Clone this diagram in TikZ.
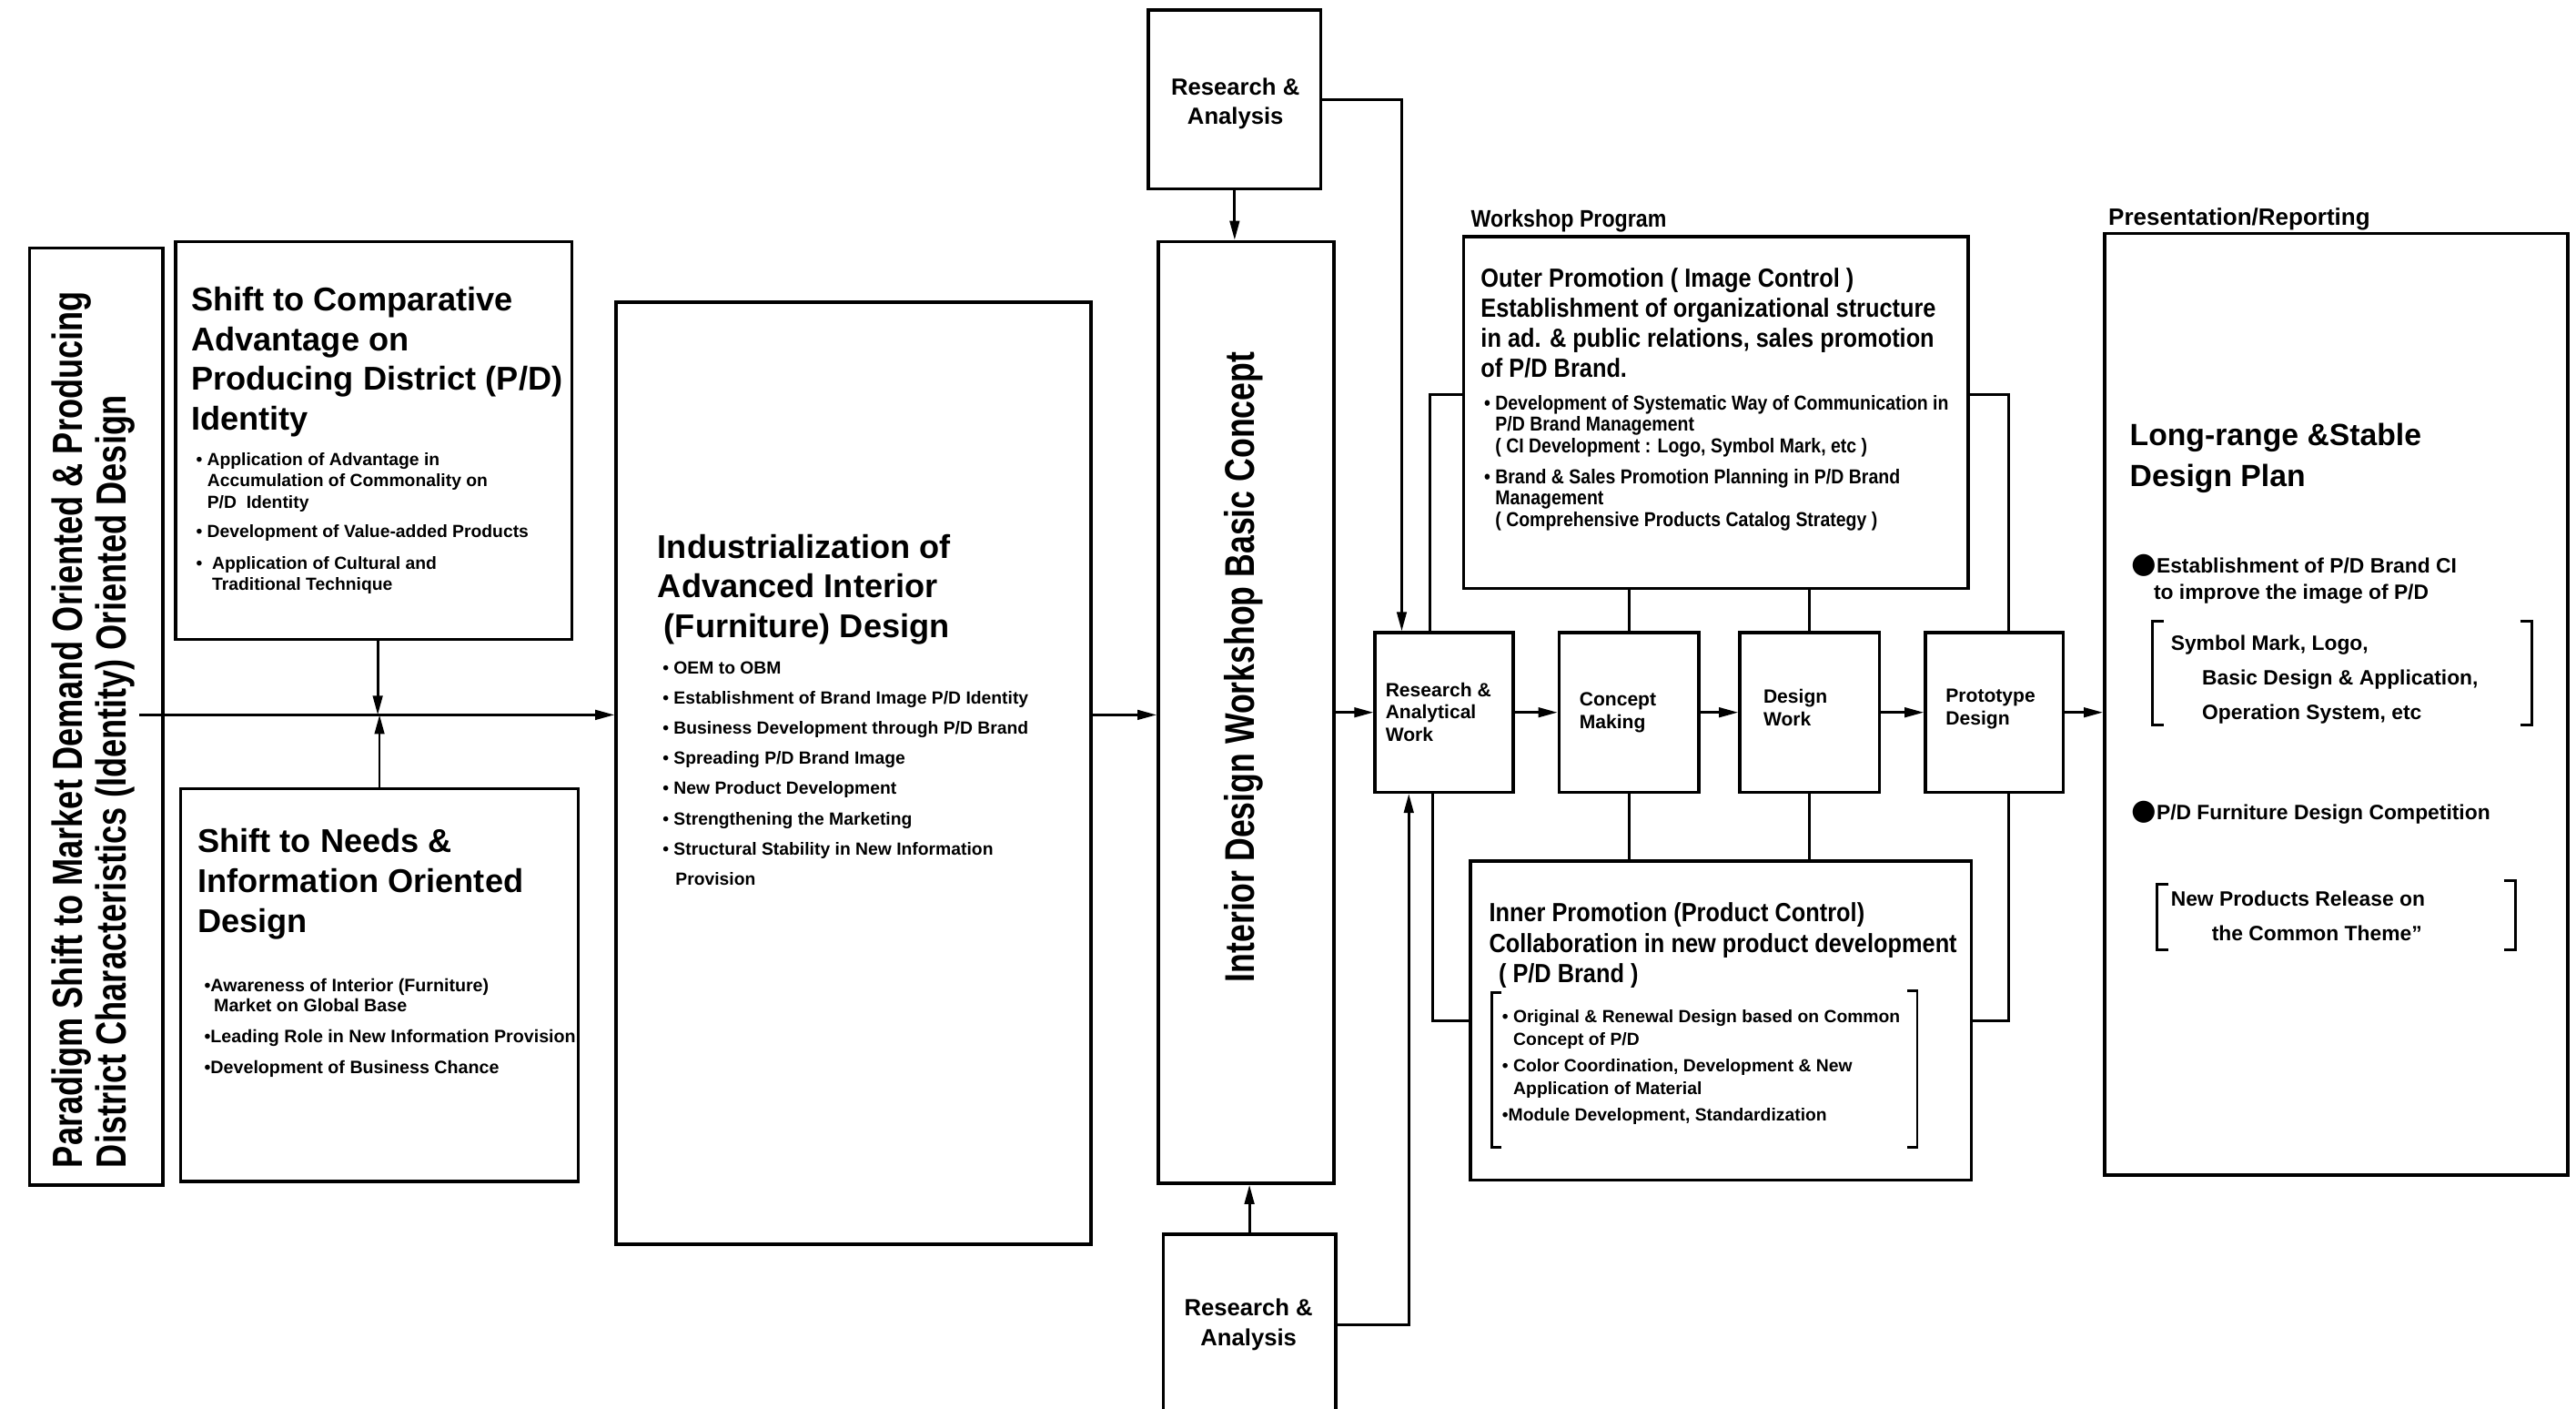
\documentclass[tikz,border=0pt]{standalone}
\usepackage{fontspec}
\setmainfont{Liberation Sans}
\newfontfamily\narrow[FakeStretch=0.78]{Liberation Sans}
\newfontfamily\semi[FakeStretch=0.88]{Liberation Sans}
\newfontfamily\symfont{DejaVu Sans}
\usetikzlibrary{fit,calc,arrows.meta}
\newcommand{\HeadFont}{\fontsize{10.3}{12.5}\selectfont\bfseries}
\newcommand{\TinyFont}{\fontsize{5.5}{6.7}\selectfont\bfseries}
\newcommand{\StepFont}{\fontsize{6}{7}\selectfont\bfseries}
\newcommand{\Blob}{{\symfont\fontsize{9}{9}\selectfont ●}}

\begin{document}
\begin{tikzpicture}[x=0.1806mm, y=-0.1806mm,
    box/.style={draw, line width=1pt, inner sep=0pt},
    txt/.style={inner sep=0pt, anchor=north west, align=left},
    lnk/.style={line width=0.8pt},
    arr/.style={line width=0.8pt, -{Triangle[length=6pt,width=3pt]}}]

    \useasboundingbox (0,0) rectangle (1568,857);
    \clip (0,0) rectangle (1568,857);

    % boxes
    \node[box, fit={(18,151) (99,721)}] (para) {};
    \node[box, fit={(107,147) (348,389)}] (shiftA) {};
    \node[box, fit={(110,480) (352,719)}] (shiftB) {};
    \node[box, fit={(375,184) (664,757)}] (indus) {};
    \node[box, fit={(699,6) (804,115)}] (raTop) {};
    \node[box, fit={(705,147) (812,720)}] (idwb) {};
    \node[box, fit={(708,751) (813,861)}] (raBot) {};
    \node[box, fit={(837,385) (921,482)}] (raw) {};
    \node[box, fit={(949,385) (1034,482)}] (con) {};
    \node[box, fit={(1059,385) (1144,482)}] (dsg) {};
    \node[box, fit={(1172,385) (1256,482)}] (pro) {};
    \node[box, fit={(891,144) (1198,358)}] (outer) {};
    \node[box, fit={(895,524) (1200,718)}] (inner) {};
    \node[box, fit={(1281,142) (1563,715)}] (pres) {};

    % texts
    \node[txt, rotate=90, anchor=west, font=\narrow\fontsize{13.2}{13.6}\selectfont\bfseries] (paraT) at (57,711)
        {Paradigm Shift to Market Demand Oriented \& Producing\\District Characteristics (Identity) Oriented Design};

    \node[txt, font=\HeadFont] (shiftAH) at (116,174)
        {Shift to Comparative\\Advantage on\\Producing District (P/D)\\Identity};
    \node[txt, font=\TinyFont] (shiftAB) at (119,275)
        {\textbullet\ Application of Advantage in\\\hspace*{3.5pt}Accumulation of Commonality on\\\hspace*{3.5pt}P/D\ \ Identity\\[2.6pt]%
         \textbullet\ Development of Value-added Products\\[3pt]%
         \textbullet\ \ Application of Cultural and\\\hspace*{5pt}Traditional Technique};

    \node[txt, font=\HeadFont] (shiftBH) at (120,504)
        {Shift to Needs \&\\Information Oriented\\Design};
    \node[txt, font=\fontsize{5.6}{6.2}\selectfont\bfseries] (shiftBB) at (124,595)
        {\textbullet Awareness of Interior (Furniture)\\\hspace*{3pt}Market on Global Base\\[3.6pt]%
         \textbullet Leading Role in New Information Provision\\[3.6pt]%
         \textbullet Development of Business Chance};

    \node[txt, font=\fontsize{10.3}{12.3}\selectfont\bfseries] (indusH) at (400,325)
        {Industrialization of\\Advanced Interior\\\hspace*{2pt}(Furniture) Design};
    \node[txt, font=\fontsize{5.5}{9.45}\selectfont\bfseries] (indusB) at (403,402)
        {\textbullet\ OEM to OBM\\\textbullet\ Establishment of Brand Image P/D Identity\\%
         \textbullet\ Business Development through P/D Brand\\\textbullet\ Spreading P/D Brand Image\\%
         \textbullet\ New Product Development\\\textbullet\ Strengthening the Marketing\\%
         \textbullet\ Structural Stability in New Information\\\hspace*{4pt}Provision};

    \node[inner sep=0pt, align=center, font=\fontsize{7.3}{9.2}\selectfont\bfseries] (raTopT) at (752,63) {Research \&\\Analysis};
    \node[inner sep=0pt, align=center, font=\fontsize{7.3}{9.2}\selectfont\bfseries] (raBotT) at (760,806) {Research \&\\Analysis};

    \node[inner sep=0pt, rotate=90, font=\narrow\fontsize{13}{14}\selectfont\bfseries] (idwbT) at (757,406)
        {Interior Design Workshop Basic Concept};

    \node[txt, font=\semi\fontsize{7.5}{9}\selectfont\bfseries] (wsLbl) at (895,127) {Workshop Program};
    \node[txt, font=\semi\fontsize{8.2}{9.4}\selectfont\bfseries] (outerH) at (901,163)
        {Outer Promotion ( Image Control )\\Establishment of organizational structure\\in ad. \& public relations, sales promotion\\of P/D Brand.};
    \node[txt, font=\semi\fontsize{6.3}{6.7}\selectfont\bfseries] (outerB) at (903,240)
        {\textbullet\ Development of Systematic Way of Communication in\\\hspace*{3.5pt}P/D Brand Management\\\hspace*{3.5pt}( CI Development : Logo, Symbol Mark, etc )\\[3pt]%
         \textbullet\ Brand \& Sales Promotion Planning in P/D Brand\\\hspace*{3.5pt}Management\\\hspace*{3.5pt}( Comprehensive Products Catalog Strategy )};

    \node[txt, font=\StepFont] (rawT) at (843,415) {Research \&\\Analytical\\Work};
    \node[txt, font=\StepFont] (conT) at (961,421) {Concept\\Making};
    \node[txt, font=\StepFont] (dsgT) at (1073,419) {Design\\Work};
    \node[txt, font=\StepFont] (proT) at (1184,419) {Prototype\\Design};

    \node[txt, font=\semi\fontsize{8.2}{9.5}\selectfont\bfseries] (innerH) at (906,549)
        {Inner Promotion (Product Control)\\Collaboration in new product development\\\hspace*{3pt}( P/D Brand )};
    \node[txt, font=\fontsize{5.5}{7.2}\selectfont\bfseries] (innerB) at (914,614)
        {\textbullet\ Original \& Renewal Design based on Common\\\hspace*{3.5pt}Concept of P/D\\[1pt]%
         \textbullet\ Color Coordination, Development \& New\\\hspace*{3.5pt}Application of Material\\[1pt]%
         \textbullet Module Development, Standardization};

    \node[txt, font=\fontsize{7.4}{9}\selectfont\bfseries] (presLbl) at (1283,126) {Presentation/Reporting};
    \node[txt, font=\fontsize{9.6}{12.8}\selectfont\bfseries] (presH) at (1296,257) {Long-range \&Stable\\Design Plan};
    \node[txt, font=\fontsize{6.5}{8.2}\selectfont\bfseries] (presB1) at (1297,337)
        {\Blob Establishment of P/D Brand CI\\\hspace*{7pt}to improve the image of P/D};
    \node[txt, font=\fontsize{6.5}{10.8}\selectfont\bfseries] (presS1) at (1321,386)
        {Symbol Mark, Logo,\\\hspace*{9.8pt}Basic Design \& Application,\\\hspace*{9.8pt}Operation System, etc};
    \node[txt, font=\fontsize{6.5}{8.2}\selectfont\bfseries] (presB2) at (1297,487) {\Blob P/D Furniture Design Competition};
    \node[txt, font=\fontsize{6.5}{10.8}\selectfont\bfseries] (presS2) at (1321,542)
        {New Products Release on\\\hspace*{12.8pt}the Common Theme\symbol{34}};

    % brackets
    \draw[lnk] (1317,378) -- (1310,378) -- (1310,441) -- (1317,441);
    \draw[lnk] (1534,378) -- (1541,378) -- (1541,441) -- (1534,441);
    \draw[lnk] (1320,538) -- (1313,538) -- (1313,578) -- (1320,578);
    \draw[lnk] (1524,536) -- (1531,536) -- (1531,578) -- (1524,578);
    \draw[lnk] (914,604) -- (908,604) -- (908,698) -- (914,698);
    \draw[lnk] (1161,603) -- (1167,603) -- (1167,698) -- (1161,698);

    % connectors
    \coordinate (pstart) at (85,435);
    \coordinate (aDrop) at ($(shiftA.south west)!0.51!(shiftA.south east)$);
    \draw[arr] (pstart) -- (pstart -| indus.west);
    \draw[arr] (aDrop) -- (aDrop |- pstart);
    \draw[arr] (shiftB.north) -- (shiftB.north |- pstart);
    \draw[arr] (pstart -| indus.east) -- (pstart -| idwb.west);
    \draw[arr] (raTop.south) -- (raTop.south |- idwb.north);
    \draw[arr] (raBot.north) -- (raBot.north |- idwb.south);
    \draw[arr] (idwb.east |- raw.west) -- (raw.west);
    \draw[arr] (raTop.east) -| ($(raw.north west)!0.2!(raw.north east)$);
    \draw[arr] (raBot.east) -| ($(raw.south west)!0.25!(raw.south east)$);
    \draw[arr] (raw) -- (con);
    \draw[arr] (con) -- (dsg);
    \draw[arr] (dsg) -- (pro);
    \draw[arr] (pro.east) -- (pro.east -| pres.west);

    \draw[lnk] ($(outer.north west)!0.45!(outer.south west)$) -| ($(raw.north west)!0.4!(raw.north east)$);
    \draw[lnk] (outer.south -| con.north) -- (con.north);
    \draw[lnk] (outer.south -| dsg.north) -- (dsg.north);
    \draw[lnk] ($(outer.north east)!0.45!(outer.south east)$) -| ($(pro.north west)!0.6!(pro.north east)$);
    \draw[lnk] ($(raw.south west)!0.42!(raw.south east)$) |- (inner.west);
    \draw[lnk] (con.south) -- (con.south |- inner.north);
    \draw[lnk] (dsg.south) -- (dsg.south |- inner.north);
    \draw[lnk] ($(pro.south west)!0.6!(pro.south east)$) |- (inner.east);

\end{tikzpicture}
\end{document}
